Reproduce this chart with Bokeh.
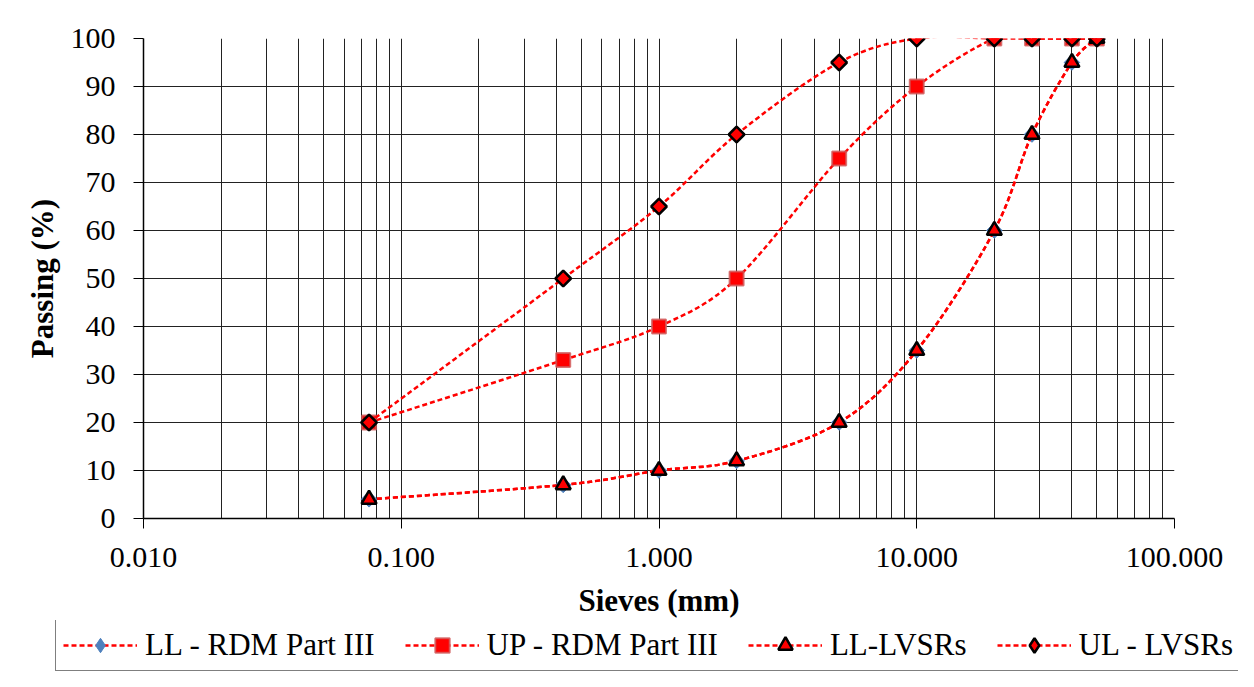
import math
from bokeh.plotting import figure
from bokeh.layouts import column
from bokeh.models import (FixedTicker, PrintfTickFormatter, Legend, LegendItem,
                          Range1d, ColumnDataSource)
from bokeh.embed import file_html
from bokeh.resources import INLINE

# ---- data ----
sieves = [0.075, 0.425, 1.0, 2.0, 5.0, 10.0, 20.0, 28.0, 40.0, 50.0]
ll_rdm = [4, 7, 10, 12, 20, 35, 60, 80, 95, 100]
up_rdm = [20, 33, 40, 50, 75, 90, 100, 100, 100, 100]
ll_lvsr = [4, 7, 10, 12, 20, 35, 60, 80, 95, 100]
ul_lvsr = [20, 50, 65, 80, 95, 100, 100, 100, 100, 100]
series_names = ["LL - RDM Part III", "UP - RDM Part III", "LL-LVSRs", "UL - LVSRs"]
x_major_ticks = [0.01, 0.1, 1, 10, 100]
y_major_ticks = [0, 10, 20, 30, 40, 50, 60, 70, 80, 90, 100]

FONT = "Liberation Serif"
RED = "#ff0000"
W = 1238

p = figure(width=W, height=620, x_axis_type="log",
           x_range=Range1d(0.01, 100), y_range=Range1d(0, 100),
           output_backend="svg", toolbar_location=None,
           min_border_left=143, min_border_right=W - 143 - 1031,
           min_border_top=38, min_border_bottom=102)
p.outline_line_color = None
p.background_fill_color = "white"
p.border_fill_color = "white"

# ticks
minor = []
for d in [0.01, 0.1, 1, 10]:
    for k in range(2, 10):
        minor.append(d * k)
p.xaxis.ticker = FixedTicker(ticks=x_major_ticks, minor_ticks=minor)
p.yaxis.ticker = FixedTicker(ticks=y_major_ticks)
p.xaxis.formatter = PrintfTickFormatter(format="%.3f")

for ax in (p.xaxis, p.yaxis):
    ax.axis_line_color = "black"
    ax.axis_line_width = 1.5
    ax.major_tick_line_color = "black"
    ax.major_tick_in = 0
    ax.major_tick_out = 10
    ax.minor_tick_line_color = None
    ax.major_label_text_font = FONT
    ax.major_label_text_font_size = "30px"
    ax.major_label_text_color = "black"
    ax.axis_label_text_font = FONT
    ax.axis_label_text_font_size = "31px"
    ax.axis_label_text_font_style = "bold"
    ax.axis_label_text_color = "black"

p.xaxis.axis_label = "Sieves (mm)"
p.yaxis.axis_label = "Passing (%)"
p.xaxis.major_label_standoff = 19
p.xaxis.axis_label_standoff = 13
p.yaxis.major_label_standoff = 18
p.yaxis.axis_label_standoff = 8

p.xgrid.grid_line_color = "#222222"
p.xgrid.grid_line_width = 1
p.xgrid.minor_grid_line_color = "#222222"
p.xgrid.minor_grid_line_width = 1
p.ygrid.grid_line_color = "#222222"
p.ygrid.grid_line_width = 1

DASH = "5 3"
LW = 2.5
ROT = math.pi / 4


def smooth_segments(xs, ys):
    """Catmull-Rom style smoothing (as in spreadsheet 'smoothed line'),
    computed in log10(x) / y space, returned as bezier segment control points."""
    u = [math.log10(v) for v in xs]
    n = len(u)
    seg = dict(x0=[], y0=[], x1=[], y1=[], cx0=[], cy0=[], cx1=[], cy1=[])
    for i in range(n - 1):
        im1 = max(i - 1, 0)
        ip2 = min(i + 2, n - 1)
        cu0 = u[i] + (u[i + 1] - u[im1]) / 6.0
        cv0 = ys[i] + (ys[i + 1] - ys[im1]) / 6.0
        cu1 = u[i + 1] - (u[ip2] - u[i]) / 6.0
        cv1 = ys[i + 1] - (ys[ip2] - ys[i]) / 6.0
        seg["x0"].append(xs[i]); seg["y0"].append(ys[i])
        seg["x1"].append(xs[i + 1]); seg["y1"].append(ys[i + 1])
        seg["cx0"].append(10 ** cu0); seg["cy0"].append(cv0)
        seg["cx1"].append(10 ** cu1); seg["cy1"].append(cv1)
    return ColumnDataSource(seg)


all_series = [ll_rdm, up_rdm, ll_lvsr, ul_lvsr]
marker_styles = [
    dict(marker="square", size=11, angle=ROT, fill_color="#4f81bd", line_color="#4f81bd", line_width=1),
    dict(marker="square", size=14, fill_color=RED, line_color="#d05a5a", line_width=2, line_alpha=0.8),
    dict(marker="triangle", size=15, fill_color=RED, line_color="black", line_width=2.5),
    dict(marker="square", size=11, angle=ROT, fill_color=RED, line_color="black", line_width=2.5),
]
legend_marker_styles = [
    dict(marker="diamond", size=20, fill_color="#4f81bd", line_color="#4f81bd", line_width=1),
    dict(marker="square", size=14, fill_color=RED, line_color="#d05a5a", line_width=2, line_alpha=0.8),
    dict(marker="triangle", size=15, fill_color=RED, line_color="black", line_width=2.5),
    dict(marker="diamond", size=20, fill_color=RED, line_color="black", line_width=2.5),
]

# legend strip (separate figure below the chart so the legend is not clipped)
pl = figure(width=W, height=51, x_axis_type="log",
            x_range=Range1d(0.01, 100), y_range=Range1d(0, 100),
            output_backend="svg", toolbar_location=None,
            x_axis_location=None, y_axis_location=None,
            min_border_left=0, min_border_right=0,
            min_border_top=0, min_border_bottom=0)
pl.outline_line_color = None
pl.xgrid.visible = False
pl.ygrid.visible = False
pl.background_fill_color = "white"
pl.border_fill_color = "white"
for fig in (p, pl):
    if "frame_align" in fig.properties():
        fig.frame_align = False

items = []
for name, ys, ms, lms in zip(series_names, all_series, marker_styles, legend_marker_styles):
    src = smooth_segments(sieves, ys)
    p.bezier(x0="x0", y0="y0", x1="x1", y1="y1", cx0="cx0", cy0="cy0",
             cx1="cx1", cy1="cy1", source=src, line_color=RED,
             line_width=LW, line_dash=DASH)
    p.scatter(x=sieves, y=ys, **ms)
    # legend proxies (hidden) carrying the same styles
    bz = pl.bezier(x0="x0", y0="y0", x1="x1", y1="y1", cx0="cx0", cy0="cy0",
                   cx1="cx1", cy1="cy1", source=src, line_color=RED,
                   line_width=LW, line_dash=DASH, visible=False)
    sc = pl.scatter(x=sieves, y=ys, visible=False, **lms)
    items.append(LegendItem(label=name, renderers=[bz, sc]))

legend = Legend(items=items, orientation="horizontal", location=(55, 0),
                label_text_font=FONT, label_text_font_size="31px",
                label_text_color="black", glyph_width=74, glyph_height=36,
                label_standoff=8, spacing=30, padding=7, margin=0,
                click_policy="none",
                border_line_color="black", border_line_width=1,
                background_fill_color="white", background_fill_alpha=1)
pl.add_layout(legend, "center")

layout = column(p, pl, spacing=0)
open("out.html", "w").write(file_html(layout, INLINE))
